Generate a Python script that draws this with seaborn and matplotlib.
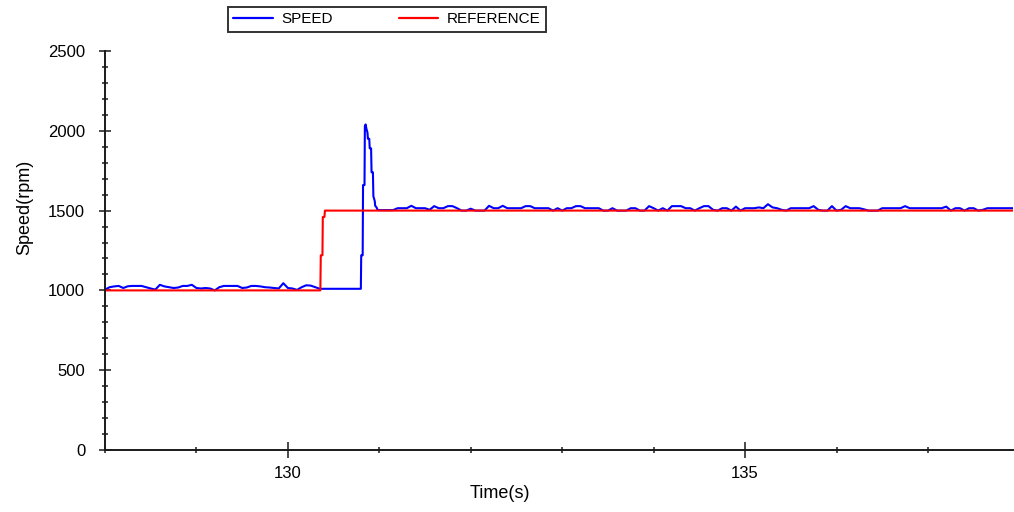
import numpy as np
import pandas as pd
import seaborn as sns
import matplotlib
matplotlib.use("Agg")
import matplotlib.pyplot as plt
from matplotlib.ticker import MultipleLocator
from matplotlib.lines import Line2D

# ---------------- data ----------------
# speed before the step, sampled every 0.05 s from 128.00 s
pre_t0 = 128.00
pre_speed = [1005, 1020, 1025, 1028, 1015, 1026, 1028, 1028, 1028, 1020,
             1012, 1005, 1035, 1025, 1020, 1015, 1018, 1028, 1028, 1035,
             1015, 1012, 1015, 1012, 1000, 1020, 1028, 1028, 1028, 1028,
             1015, 1018, 1028, 1028, 1025, 1020, 1018, 1015, 1012, 1045,
             1015, 1012, 1003, 1020, 1032, 1030, 1020, 1010, 1010, 1010,
             1010, 1010, 1010, 1010, 1010, 1010]
# transient after the step command
trans_time = [130.798, 130.802, 130.818, 130.822, 130.838, 130.842, 130.85,
              130.86, 130.87, 130.875, 130.89, 130.895, 130.91, 130.915,
              130.93, 130.935, 130.95, 130.955, 130.97, 130.98, 131.00, 131.05]
trans_speed = [1010, 1220, 1220, 1660, 1660, 2030, 2040,
               2010, 1990, 1950, 1950, 1890, 1890, 1740,
               1740, 1590, 1560, 1530, 1520, 1505, 1503, 1503]
# speed after the step, sampled every 0.05 s from 131.10 s
post_t0 = 131.10
post_speed = [1503, 1503, 1515, 1515, 1515, 1530, 1515, 1515, 1515, 1505,
              1528, 1515, 1515, 1528, 1528, 1515, 1500, 1500, 1512, 1500,
              1500, 1500, 1530, 1515, 1515, 1530, 1515, 1515, 1515, 1515,
              1528, 1528, 1515, 1515, 1515, 1515, 1500, 1515, 1500, 1515,
              1515, 1528, 1528, 1515, 1515, 1515, 1515, 1500, 1500, 1515,
              1500, 1500, 1500, 1515, 1515, 1500, 1500, 1528, 1515, 1500,
              1515, 1500, 1528, 1528, 1528, 1515, 1515, 1500, 1515, 1528,
              1528, 1505, 1500, 1515, 1515, 1500, 1525, 1500, 1515, 1515,
              1515, 1520, 1515, 1540, 1520, 1515, 1505, 1500, 1515, 1515,
              1515, 1515, 1515, 1528, 1505, 1500, 1500, 1528, 1500, 1505,
              1528, 1515, 1515, 1515, 1508, 1500, 1500, 1500, 1515, 1515,
              1515, 1515, 1515, 1528, 1515, 1515, 1515, 1515, 1515, 1515,
              1515, 1515, 1525, 1500, 1515, 1515, 1500, 1515, 1515, 1500,
              1505, 1515, 1515, 1515, 1515, 1515, 1515]
end_time = 137.93
end_speed = 1515

ref_time = [128.00, 130.355, 130.36, 130.378, 130.382, 130.40, 130.405, 137.93]
ref_value = [1000, 1000, 1220, 1220, 1460, 1460, 1500, 1500]

series_names = ["SPEED", "REFERENCE"]
series_colors = ["#0000ff", "#ff0000"]
x_label = "Time(s)"
y_label = "Speed(rpm)"

# ---------------- assemble ----------------
pre_time = list(pre_t0 + 0.05 * np.arange(len(pre_speed)))
post_time = list(post_t0 + 0.05 * np.arange(len(post_speed)))
speed_time = pre_time + trans_time + post_time + [end_time]
speed_val = pre_speed + trans_speed + post_speed + [end_speed]

df = pd.concat([
    pd.DataFrame({"time": speed_time, "value": speed_val, "series": series_names[0]}),
    pd.DataFrame({"time": ref_time, "value": ref_value, "series": series_names[1]}),
], ignore_index=True)

sns.set_style("ticks")
plt.rcParams["font.family"] = ["Liberation Sans", "DejaVu Sans"]
plt.rcParams["text.color"] = "black"
plt.rcParams["axes.labelcolor"] = "black"
plt.rcParams["xtick.color"] = "black"
plt.rcParams["ytick.color"] = "black"

fig = plt.figure(figsize=(10.14, 5.12), dpi=100)
ax = fig.add_axes([105 / 1014, 62 / 512, 908 / 1014, 399 / 512])

sns.lineplot(data=df, x="time", y="value", hue="series",
             palette=dict(zip(series_names, series_colors)),
             sort=False, estimator=None, linewidth=1.5, ax=ax, legend=False)

ax.set_xlim(128.0, 137.93)
ax.set_ylim(0, 2500)

ax.xaxis.set_major_locator(MultipleLocator(5))
ax.xaxis.set_minor_locator(MultipleLocator(1))
ax.yaxis.set_major_locator(MultipleLocator(500))
ax.yaxis.set_minor_locator(MultipleLocator(100))

for s in ["top", "right"]:
    ax.spines[s].set_visible(False)
for s in ["left", "bottom"]:
    ax.spines[s].set_linewidth(1.4)
    ax.spines[s].set_color("#1a1a1a")

ax.tick_params(axis="y", which="major", direction="inout", length=8.6, width=1.1,
               color="#1a1a1a", labelsize=12, pad=10, labelcolor="black")
ax.tick_params(axis="y", which="minor", direction="inout", length=4.3, width=1.1,
               color="#1a1a1a")
ax.tick_params(axis="x", which="major", direction="inout", length=11.5, width=1.1,
               color="#1a1a1a", labelsize=12, pad=6, labelcolor="black")
ax.tick_params(axis="x", which="minor", direction="inout", length=5, width=1.1,
               color="#1a1a1a")

ax.set_xlabel(x_label, fontsize=13, color="black")
ax.set_ylabel(y_label, fontsize=13, color="black")
ax.xaxis.set_label_coords(0.435, -0.088)
ax.yaxis.set_label_coords(-0.079, 0.607)

handles = [Line2D([], [], color=c, linewidth=1.6) for c in series_colors]
leg = fig.legend(handles, series_names, loc="center", bbox_to_anchor=(0.3817, 0.962),
                 ncol=2, fontsize=11, frameon=True, fancybox=False,
                 handlelength=2.6, handletextpad=0.55, columnspacing=4.3,
                 borderpad=0.35, borderaxespad=0)
leg.get_frame().set_edgecolor("black")
leg.get_frame().set_linewidth(1.4)
for t in leg.get_texts():
    t.set_color("black")

fig.savefig("out.png", dpi=100)
